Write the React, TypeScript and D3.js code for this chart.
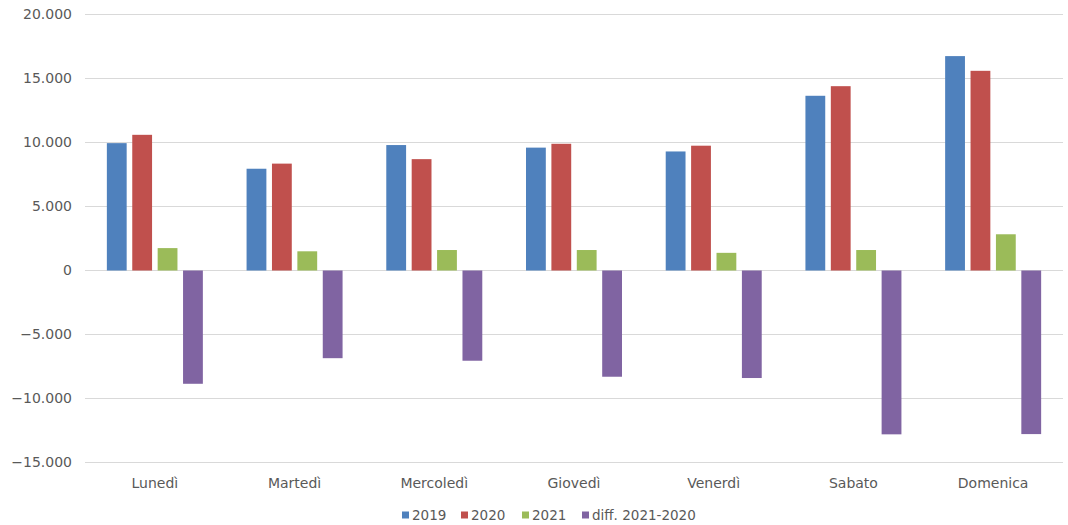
import React from "react";
import * as d3 from "d3";

const days = ["Lunedì", "Martedì", "Mercoledì", "Giovedì", "Venerdì", "Sabato", "Domenica"];
const series = ["2019", "2020", "2021", "diff. 2021-2020"];
const v2019 = [9950, 7950, 9800, 9600, 9300, 13650, 16750];
const v2020 = [10600, 8350, 8700, 9900, 9750, 14400, 15600];
const v2021 = [1750, 1500, 1600, 1600, 1380, 1600, 2830];
const vDiff = [-8850, -6850, -7050, -8300, -8400, -12800, -12780];
const yTicks = [20000, 15000, 10000, 5000, 0, -5000, -10000, -15000];
const colors = ["#4F81BD", "#C0504D", "#9BBB59", "#8064A2"];

const W = 1068;
const H = 525;
const FONT = "'DejaVu Sans', sans-serif";

export default function App() {
  const values = [v2019, v2020, v2021, vDiff];
  const x = d3.scaleBand<string>().domain(days).range([85, 1063]).padding(0);
  const bw = x.bandwidth();
  const inner = d3
    .scaleBand<string>()
    .domain(series)
    .range([bw / 2 - 48, bw / 2 + 48])
    .paddingInner(0.22)
    .paddingOuter(0);
  const y = d3.scaleLinear().domain([-15000, 20000]).range([462.5, 14.5]);
  const fmt = (v: number) => d3.format(",")(v).replace(/,/g, ".");

  const legendX = [402, 461, 522, 582];

  return (
    <svg
      width={W}
      height={H}
      style={{ position: "absolute", left: 0, top: 0, background: "#fff" }}
      fontFamily={FONT}
    >
      <rect x={0} y={0} width={W} height={H} fill="#fff" />
      {yTicks.map((t) => (
        <g key={t}>
          <line x1={85} x2={1063} y1={y(t)} y2={y(t)} stroke="#d9d9d9" strokeWidth={1.2} />
          <text
            x={72}
            y={y(t)}
            dy="0.35em"
            textAnchor="end"
            fontSize={14}
            fill="#595959"
          >
            {fmt(t)}
          </text>
        </g>
      ))}
      {days.map((d, i) => (
        <g key={d} transform={`translate(${x(d)},0)`}>
          {series.map((s, j) => {
            const v = values[j][i];
            return (
              <rect
                key={s}
                x={inner(s)}
                width={inner.bandwidth()}
                y={Math.min(y(v), y(0))}
                height={Math.abs(y(v) - y(0))}
                fill={colors[j]}
              />
            );
          })}
          <text x={bw / 2} y={488} textAnchor="middle" fontSize={14} fill="#595959">
            {d}
          </text>
        </g>
      ))}
      {series.map((s, j) => (
        <g key={s} transform={`translate(${legendX[j]},515)`}>
          <rect x={0} y={-3.5} width={7} height={7} fill={colors[j]} />
          <text x={10} y={0} dy="0.35em" fontSize={13.5} fill="#595959">
            {s}
          </text>
        </g>
      ))}
    </svg>
  );
}
